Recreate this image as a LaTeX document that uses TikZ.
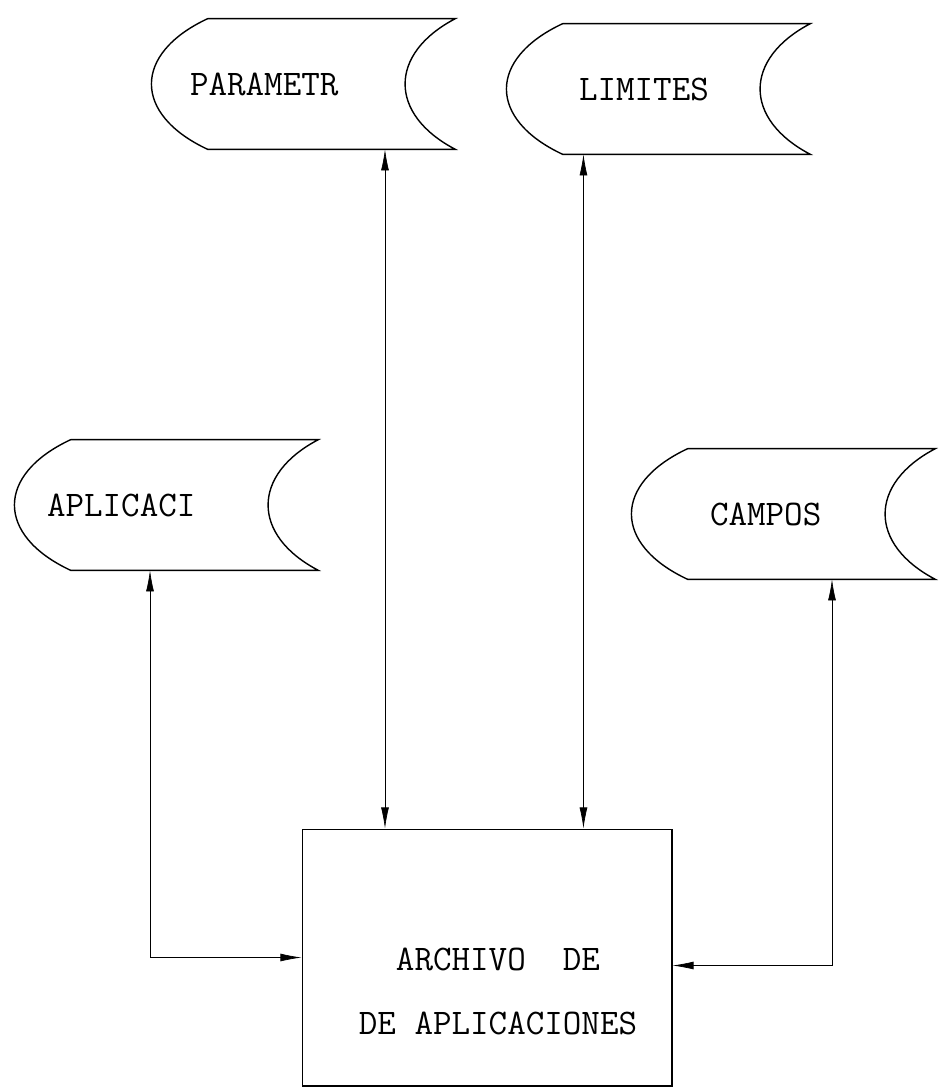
\documentclass[tikz,border=0pt]{standalone}
\usepackage{tikz}
\usetikzlibrary{arrows.meta,positioning,calc}

\newcommand{\storefont}{\fontsize{20.5pt}{36pt}\selectfont\ttfamily}

\begin{document}
\begin{tikzpicture}[
  x=0.02cm, y=-0.02cm,
  store/.style={minimum width=6.06cm, minimum height=2.6cm, inner ysep=0pt,
    inner xsep=#1, text width=6.06cm-2*#1, align=left, font=\storefont},
  outline/.style={draw, thick},
  procbox/.style={rectangle, draw, semithick, minimum width=7.4cm, minimum height=5.14cm},
  boxtext/.style={align=center, font=\storefont},
  link/.style={draw, thin, {Latex[length=12pt,width=4.5pt]}-{Latex[length=12pt,width=4.5pt]}}
]
  \useasboundingbox (0,0) rectangle (939,1088);

  % data stores
  \node[store=0.76cm] (param) at (303.5,84) {PARAMETR};
  \node[store=1.44cm] (lim)   at (658.5,89) {LIMITES};
  \node[store=0.64cm] (apl)   at (166.5,505) {APLICACI};
  \node[store=1.56cm] (camp)  at (783.5,514) {CAMPOS};

  \foreach \s in {param,lim,apl,camp}
    \draw[outline] ([xshift=1.12cm]\s.north west) -- (\s.north east)
      .. controls +(-1.34cm,-0.7cm) and +(-1.34cm,0.7cm) .. (\s.south east)
      -- ([xshift=1.12cm]\s.south west)
      .. controls +(-1.5cm,0.7cm) and +(-1.5cm,-0.7cm) .. ([xshift=1.12cm]\s.north west);

  % process
  \node[procbox] (box) at (487,957.5) {};
  \node[boxtext] (boxlbl) at ([xshift=0.22cm,yshift=-0.68cm]box.center) {ARCHIVO~~DE\\DE APLICACIONES};

  \coordinate (pinL) at ($(box.north west)!0.225!(box.north east)$);
  \coordinate (pinR) at ($(box.north west)!0.76!(box.north east)$);

  \path[link] (param.south -| pinL) -- (pinL);
  \path[link] (lim.south -| pinR) -- (pinR);
  \path[link] ([xshift=-0.33cm]apl.south) |- (box.west);
  \path[link] ([xshift=0.97cm]camp.south) |- ([yshift=-0.16cm]box.east);
\end{tikzpicture}
\end{document}
